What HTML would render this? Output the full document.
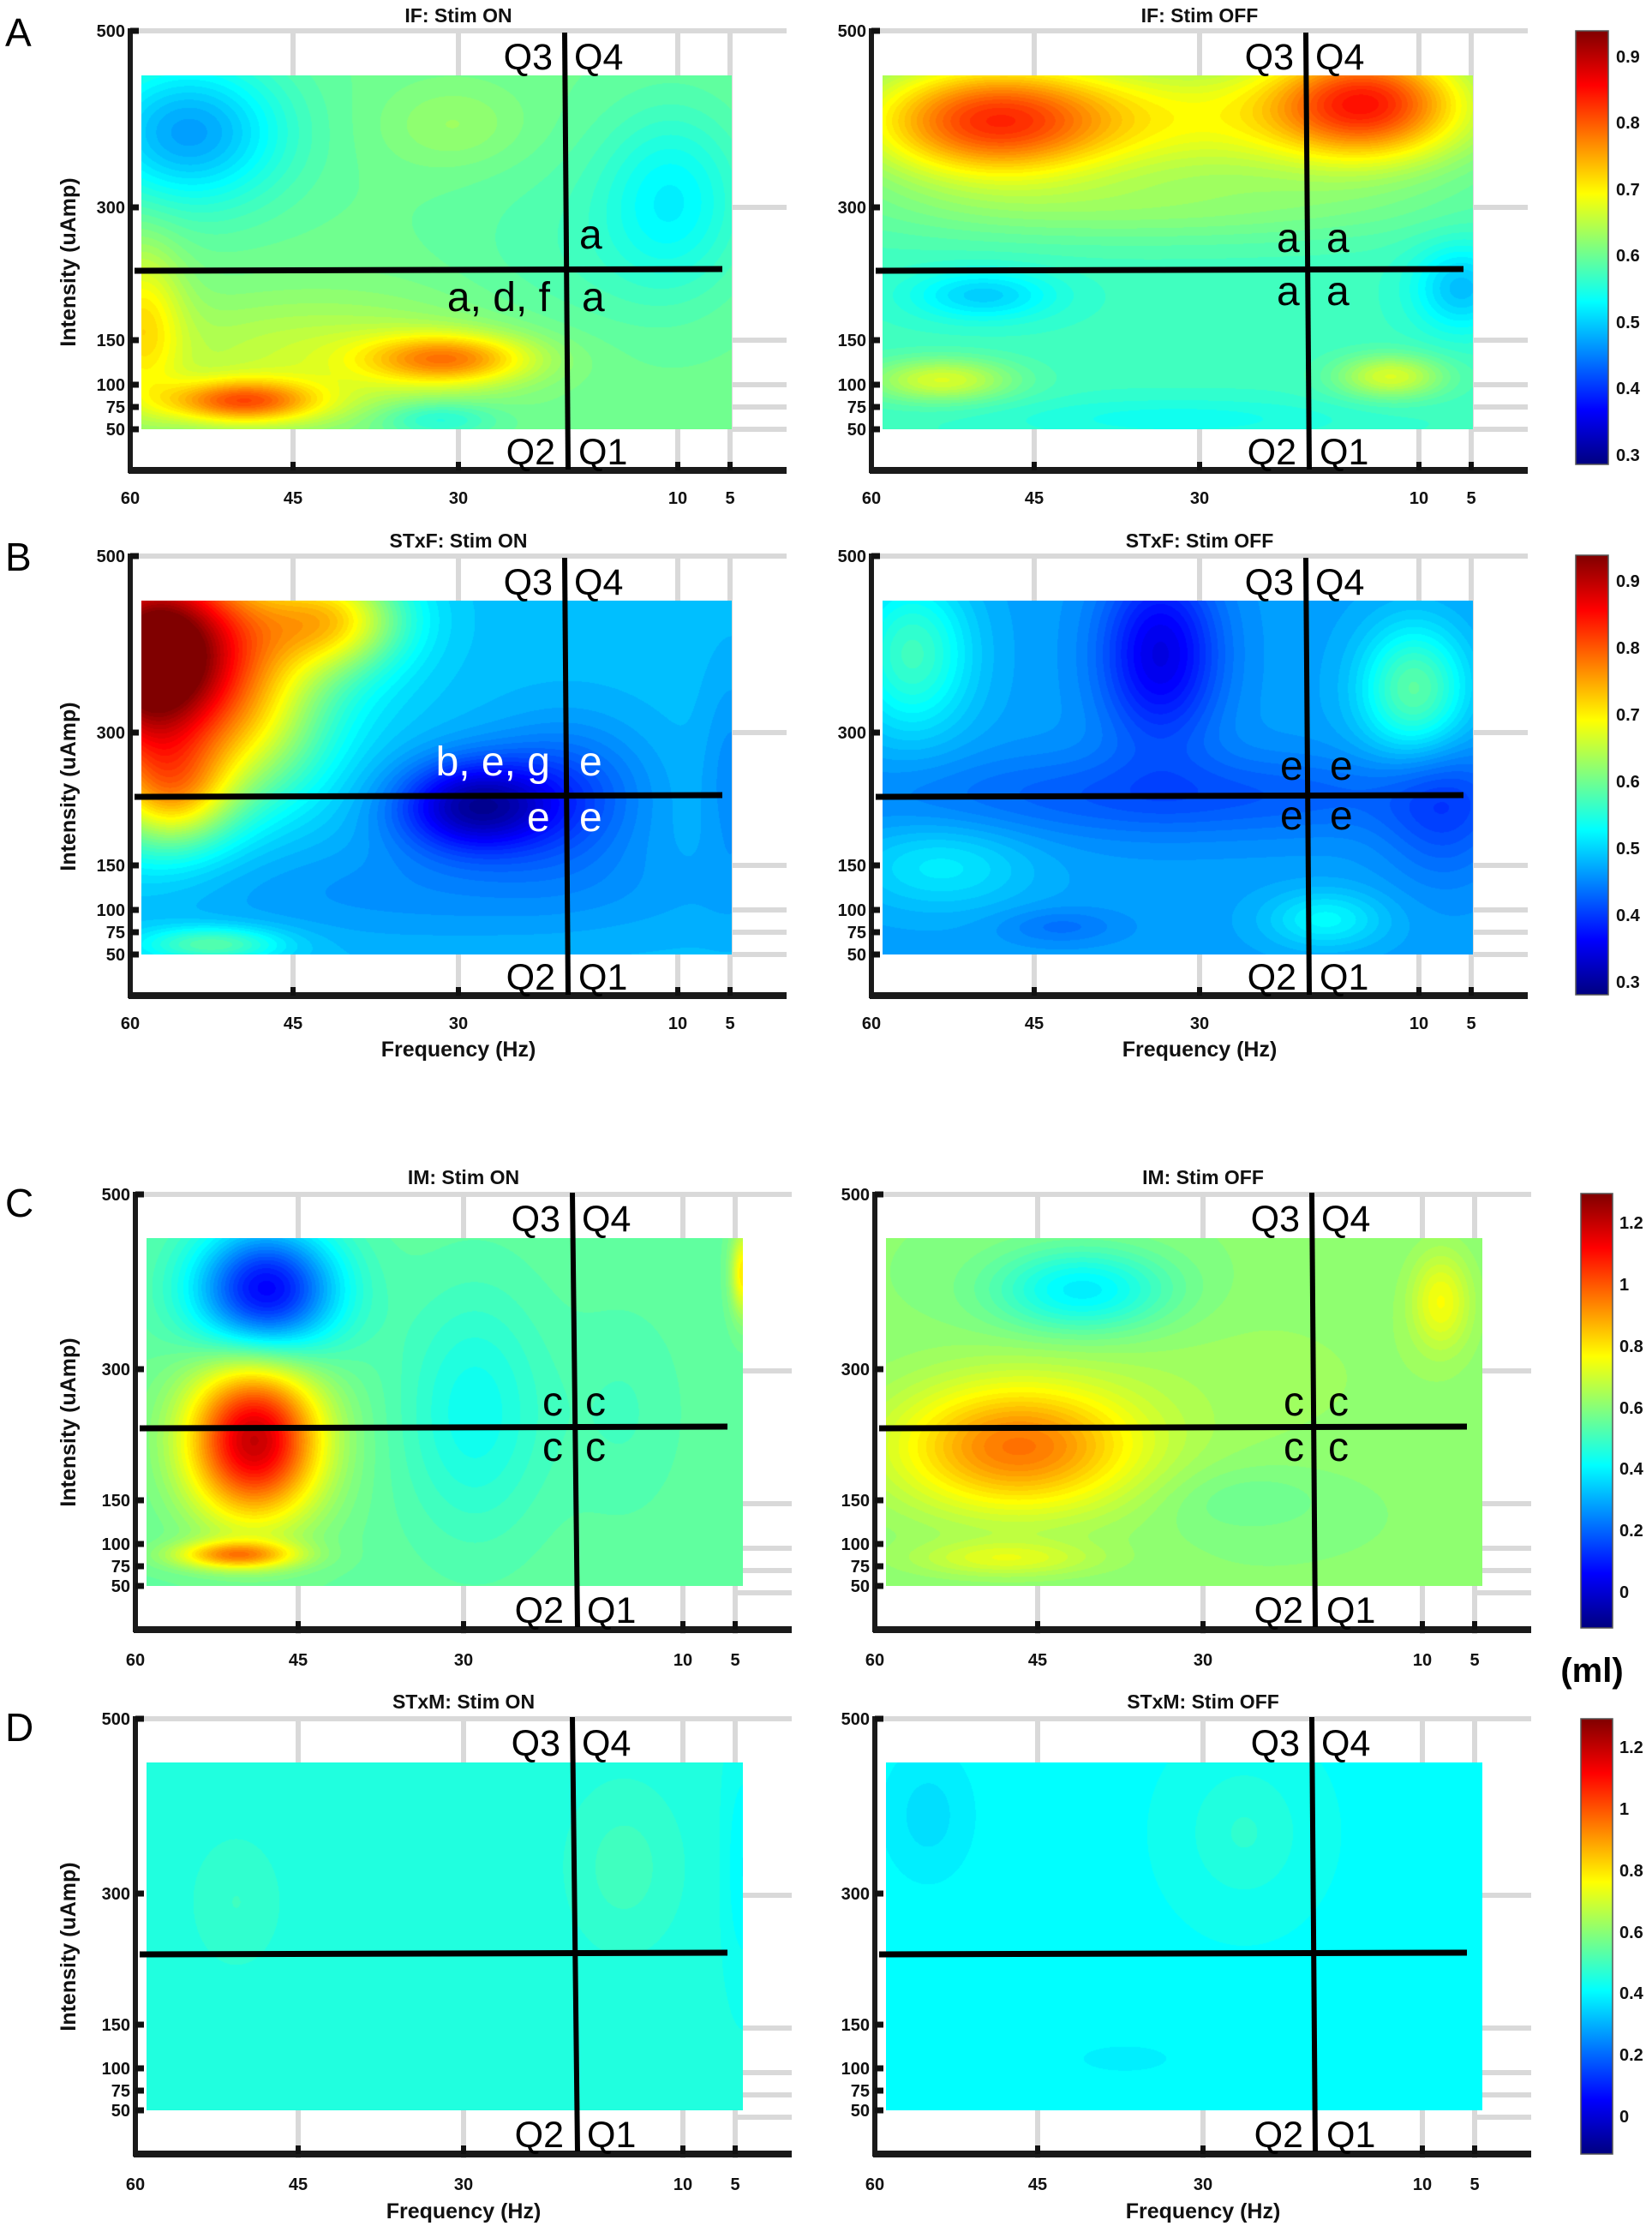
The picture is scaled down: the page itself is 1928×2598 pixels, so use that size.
<!DOCTYPE html>
<html><head><meta charset="utf-8">
<style>
html,body{margin:0;padding:0;background:#fff;}
#wrap{position:relative;width:1928px;height:2598px;overflow:hidden;background:#fff;}
svg{position:absolute;left:0;top:0;}
canvas{position:absolute;}
text{font-family:"Liberation Sans",Arial,sans-serif;}
.tk{font-size:20px;font-weight:bold;fill:#111;}
.tt{font-size:23px;font-weight:bold;fill:#111;}
.q{font-size:43px;fill:#000;}
.an{font-size:48px;fill:#000;}
.lb{font-size:25px;font-weight:bold;fill:#111;}
.pl{font-size:46px;fill:#000;}
</style></head><body>
<div id="wrap">
<svg width="1928" height="2598" style="z-index:0">
<g id="gridset" stroke="#d9d9d9" stroke-width="6" fill="none">
<g transform="translate(152,36)"><path d="M0 0H766M702 206H766M702 361H766M702 413H766M702 439H766M702 465H766M190 0V513M383 0V513M639 0V513M700 0V513"/></g>
<g transform="translate(1017,36)"><path d="M0 0H766M702 206H766M702 361H766M702 413H766M702 439H766M702 465H766M190 0V513M383 0V513M639 0V513M700 0V513"/></g>
<g transform="translate(152,649)"><path d="M0 0H766M702 206H766M702 361H766M702 413H766M702 439H766M702 465H766M190 0V513M383 0V513M639 0V513M700 0V513"/></g>
<g transform="translate(1017,649)"><path d="M0 0H766M702 206H766M702 361H766M702 413H766M702 439H766M702 465H766M190 0V513M383 0V513M639 0V513M700 0V513"/></g>
<g transform="translate(158,1394)"><path d="M0 0H766M702 206H766M702 361H766M702 413H766M702 439H766M702 465H766M190 0V513M383 0V513M639 0V513M700 0V513"/></g>
<g transform="translate(1021,1394)"><path d="M0 0H766M702 206H766M702 361H766M702 413H766M702 439H766M702 465H766M190 0V513M383 0V513M639 0V513M700 0V513"/></g>
<g transform="translate(158,2006)"><path d="M0 0H766M702 206H766M702 361H766M702 413H766M702 439H766M702 465H766M190 0V513M383 0V513M639 0V513M700 0V513"/></g>
<g transform="translate(1021,2006)"><path d="M0 0H766M702 206H766M702 361H766M702 413H766M702 439H766M702 465H766M190 0V513M383 0V513M639 0V513M700 0V513"/></g>
</g>
</svg>

<canvas id="c0" width="689" height="413" style="left:165px;top:88px;z-index:1"></canvas>
<canvas id="c1" width="689" height="413" style="left:1030px;top:88px;z-index:1"></canvas>
<canvas id="c2" width="689" height="413" style="left:165px;top:701px;z-index:1"></canvas>
<canvas id="c3" width="689" height="413" style="left:1030px;top:701px;z-index:1"></canvas>
<canvas id="c4" width="696" height="406" style="left:171px;top:1445px;z-index:1"></canvas>
<canvas id="c5" width="696" height="406" style="left:1034px;top:1445px;z-index:1"></canvas>
<canvas id="c6" width="696" height="406" style="left:171px;top:2057px;z-index:1"></canvas>
<canvas id="c7" width="696" height="406" style="left:1034px;top:2057px;z-index:1"></canvas>

<svg width="1928" height="2598" style="z-index:2">
<defs>
<linearGradient id="jet" x1="0" y1="1" x2="0" y2="0">
<stop offset="0" stop-color="#000080"/><stop offset="0.125" stop-color="#0000ff"/><stop offset="0.375" stop-color="#00ffff"/><stop offset="0.625" stop-color="#ffff00"/><stop offset="0.875" stop-color="#ff0000"/><stop offset="1" stop-color="#800000"/>
</linearGradient>
</defs>

<g transform="translate(152,36)">
<path d="M0 -3V516" stroke="#1a1a1a" stroke-width="6"/><path d="M-2 513H766" stroke="#1a1a1a" stroke-width="8"/>
<path d="M0 0H10M0 206H10M0 361H10M0 413H10M0 439H10M0 465H10" stroke="#111" stroke-width="7"/>
<path d="M190 513V503M383 513V503M639 513V503M700 513V503" stroke="#111" stroke-width="6"/>
<g class="tk" text-anchor="end"><text x="-6" y="7">500</text><text x="-6" y="213">300</text><text x="-6" y="368">150</text><text x="-6" y="420">100</text><text x="-6" y="446">75</text><text x="-6" y="472">50</text></g>
<g class="tk" text-anchor="middle"><text x="0" y="552">60</text><text x="190" y="552">45</text><text x="383" y="552">30</text><text x="639" y="552">10</text><text x="700" y="552">5</text></g>
<text class="tt" x="383" y="-10" text-anchor="middle">IF: Stim ON</text>
<path d="M507 2L511 512" stroke="#000" stroke-width="6"/><path d="M5 280L691 278" stroke="#000" stroke-width="7"/>
<g class="q"><text x="493" y="45" text-anchor="end">Q3</text><text x="518" y="45">Q4</text><text x="496" y="506" text-anchor="end">Q2</text><text x="523" y="506">Q1</text></g>
</g>
<text class="lb" transform="translate(88,306) rotate(-90)" text-anchor="middle">Intensity (uAmp)</text>
<text class="pl" x="6" y="54">A</text>

<g transform="translate(1017,36)">
<path d="M0 -3V516" stroke="#1a1a1a" stroke-width="6"/><path d="M-2 513H766" stroke="#1a1a1a" stroke-width="8"/>
<path d="M0 0H10M0 206H10M0 361H10M0 413H10M0 439H10M0 465H10" stroke="#111" stroke-width="7"/>
<path d="M190 513V503M383 513V503M639 513V503M700 513V503" stroke="#111" stroke-width="6"/>
<g class="tk" text-anchor="end"><text x="-6" y="7">500</text><text x="-6" y="213">300</text><text x="-6" y="368">150</text><text x="-6" y="420">100</text><text x="-6" y="446">75</text><text x="-6" y="472">50</text></g>
<g class="tk" text-anchor="middle"><text x="0" y="552">60</text><text x="190" y="552">45</text><text x="383" y="552">30</text><text x="639" y="552">10</text><text x="700" y="552">5</text></g>
<text class="tt" x="383" y="-10" text-anchor="middle">IF: Stim OFF</text>
<path d="M507 2L511 512" stroke="#000" stroke-width="6"/><path d="M5 280L691 278" stroke="#000" stroke-width="7"/>
<g class="q"><text x="493" y="45" text-anchor="end">Q3</text><text x="518" y="45">Q4</text><text x="496" y="506" text-anchor="end">Q2</text><text x="523" y="506">Q1</text></g>
</g>

<g transform="translate(152,649)">
<path d="M0 -3V516" stroke="#1a1a1a" stroke-width="6"/><path d="M-2 513H766" stroke="#1a1a1a" stroke-width="8"/>
<path d="M0 0H10M0 206H10M0 361H10M0 413H10M0 439H10M0 465H10" stroke="#111" stroke-width="7"/>
<path d="M190 513V503M383 513V503M639 513V503M700 513V503" stroke="#111" stroke-width="6"/>
<g class="tk" text-anchor="end"><text x="-6" y="7">500</text><text x="-6" y="213">300</text><text x="-6" y="368">150</text><text x="-6" y="420">100</text><text x="-6" y="446">75</text><text x="-6" y="472">50</text></g>
<g class="tk" text-anchor="middle"><text x="0" y="552">60</text><text x="190" y="552">45</text><text x="383" y="552">30</text><text x="639" y="552">10</text><text x="700" y="552">5</text></g>
<text class="tt" x="383" y="-10" text-anchor="middle">STxF: Stim ON</text>
<text class="lb" x="383" y="584" text-anchor="middle">Frequency (Hz)</text>
<path d="M507 2L511 512" stroke="#000" stroke-width="6"/><path d="M5 281L691 279" stroke="#000" stroke-width="7"/>
<g class="q"><text x="493" y="45" text-anchor="end">Q3</text><text x="518" y="45">Q4</text><text x="496" y="506" text-anchor="end">Q2</text><text x="523" y="506">Q1</text></g>
</g>
<text class="lb" transform="translate(88,918) rotate(-90)" text-anchor="middle">Intensity (uAmp)</text>
<text class="pl" x="6" y="666">B</text>

<g transform="translate(1017,649)">
<path d="M0 -3V516" stroke="#1a1a1a" stroke-width="6"/><path d="M-2 513H766" stroke="#1a1a1a" stroke-width="8"/>
<path d="M0 0H10M0 206H10M0 361H10M0 413H10M0 439H10M0 465H10" stroke="#111" stroke-width="7"/>
<path d="M190 513V503M383 513V503M639 513V503M700 513V503" stroke="#111" stroke-width="6"/>
<g class="tk" text-anchor="end"><text x="-6" y="7">500</text><text x="-6" y="213">300</text><text x="-6" y="368">150</text><text x="-6" y="420">100</text><text x="-6" y="446">75</text><text x="-6" y="472">50</text></g>
<g class="tk" text-anchor="middle"><text x="0" y="552">60</text><text x="190" y="552">45</text><text x="383" y="552">30</text><text x="639" y="552">10</text><text x="700" y="552">5</text></g>
<text class="tt" x="383" y="-10" text-anchor="middle">STxF: Stim OFF</text>
<text class="lb" x="383" y="584" text-anchor="middle">Frequency (Hz)</text>
<path d="M507 2L511 512" stroke="#000" stroke-width="6"/><path d="M5 281L691 279" stroke="#000" stroke-width="7"/>
<g class="q"><text x="493" y="45" text-anchor="end">Q3</text><text x="518" y="45">Q4</text><text x="496" y="506" text-anchor="end">Q2</text><text x="523" y="506">Q1</text></g>
</g>

<g transform="translate(158,1394)">
<path d="M0 -3V511" stroke="#1a1a1a" stroke-width="6"/><path d="M-2 508H766" stroke="#1a1a1a" stroke-width="8"/>
<path d="M0 0H10M0 204H10M0 357H10M0 408H10M0 434H10M0 457H10" stroke="#111" stroke-width="7"/>
<path d="M190 508V498M383 508V498M639 508V498M700 508V498" stroke="#111" stroke-width="6"/>
<g class="tk" text-anchor="end"><text x="-6" y="7">500</text><text x="-6" y="211">300</text><text x="-6" y="364">150</text><text x="-6" y="415">100</text><text x="-6" y="441">75</text><text x="-6" y="464">50</text></g>
<g class="tk" text-anchor="middle"><text x="0" y="550">60</text><text x="190" y="550">45</text><text x="383" y="550">30</text><text x="639" y="550">10</text><text x="700" y="550">5</text></g>
<text class="tt" x="383" y="-12" text-anchor="middle">IM: Stim ON</text>
<path d="M510 -2L516 505" stroke="#000" stroke-width="6"/><path d="M5 273L691 271" stroke="#000" stroke-width="7"/>
<g class="q"><text x="496" y="43" text-anchor="end">Q3</text><text x="521" y="43">Q4</text><text x="500" y="500" text-anchor="end">Q2</text><text x="527" y="500">Q1</text></g>
</g>
<text class="lb" transform="translate(88,1660) rotate(-90)" text-anchor="middle">Intensity (uAmp)</text>
<text class="pl" x="6" y="1420">C</text>

<g transform="translate(1021,1394)">
<path d="M0 -3V511" stroke="#1a1a1a" stroke-width="6"/><path d="M-2 508H766" stroke="#1a1a1a" stroke-width="8"/>
<path d="M0 0H10M0 204H10M0 357H10M0 408H10M0 434H10M0 457H10" stroke="#111" stroke-width="7"/>
<path d="M190 508V498M383 508V498M639 508V498M700 508V498" stroke="#111" stroke-width="6"/>
<g class="tk" text-anchor="end"><text x="-6" y="7">500</text><text x="-6" y="211">300</text><text x="-6" y="364">150</text><text x="-6" y="415">100</text><text x="-6" y="441">75</text><text x="-6" y="464">50</text></g>
<g class="tk" text-anchor="middle"><text x="0" y="550">60</text><text x="190" y="550">45</text><text x="383" y="550">30</text><text x="639" y="550">10</text><text x="700" y="550">5</text></g>
<text class="tt" x="383" y="-12" text-anchor="middle">IM: Stim OFF</text>
<path d="M510 -2L514 505" stroke="#000" stroke-width="6"/><path d="M5 273L691 271" stroke="#000" stroke-width="7"/>
<g class="q"><text x="496" y="43" text-anchor="end">Q3</text><text x="521" y="43">Q4</text><text x="500" y="500" text-anchor="end">Q2</text><text x="527" y="500">Q1</text></g>
</g>

<g transform="translate(158,2006)">
<path d="M0 -3V511" stroke="#1a1a1a" stroke-width="6"/><path d="M-2 508H766" stroke="#1a1a1a" stroke-width="8"/>
<path d="M0 0H10M0 204H10M0 357H10M0 408H10M0 434H10M0 457H10" stroke="#111" stroke-width="7"/>
<path d="M190 508V498M383 508V498M639 508V498M700 508V498" stroke="#111" stroke-width="6"/>
<g class="tk" text-anchor="end"><text x="-6" y="7">500</text><text x="-6" y="211">300</text><text x="-6" y="364">150</text><text x="-6" y="415">100</text><text x="-6" y="441">75</text><text x="-6" y="464">50</text></g>
<g class="tk" text-anchor="middle"><text x="0" y="550">60</text><text x="190" y="550">45</text><text x="383" y="550">30</text><text x="639" y="550">10</text><text x="700" y="550">5</text></g>
<text class="tt" x="383" y="-12" text-anchor="middle">STxM: Stim ON</text>
<text class="lb" x="383" y="583" text-anchor="middle">Frequency (Hz)</text>
<path d="M510 -2L516 505" stroke="#000" stroke-width="6"/><path d="M5 275L691 273" stroke="#000" stroke-width="7"/>
<g class="q"><text x="496" y="43" text-anchor="end">Q3</text><text x="521" y="43">Q4</text><text x="500" y="500" text-anchor="end">Q2</text><text x="527" y="500">Q1</text></g>
</g>
<text class="lb" transform="translate(88,2272) rotate(-90)" text-anchor="middle">Intensity (uAmp)</text>
<text class="pl" x="6" y="2032">D</text>

<g transform="translate(1021,2006)">
<path d="M0 -3V511" stroke="#1a1a1a" stroke-width="6"/><path d="M-2 508H766" stroke="#1a1a1a" stroke-width="8"/>
<path d="M0 0H10M0 204H10M0 357H10M0 408H10M0 434H10M0 457H10" stroke="#111" stroke-width="7"/>
<path d="M190 508V498M383 508V498M639 508V498M700 508V498" stroke="#111" stroke-width="6"/>
<g class="tk" text-anchor="end"><text x="-6" y="7">500</text><text x="-6" y="211">300</text><text x="-6" y="364">150</text><text x="-6" y="415">100</text><text x="-6" y="441">75</text><text x="-6" y="464">50</text></g>
<g class="tk" text-anchor="middle"><text x="0" y="550">60</text><text x="190" y="550">45</text><text x="383" y="550">30</text><text x="639" y="550">10</text><text x="700" y="550">5</text></g>
<text class="tt" x="383" y="-12" text-anchor="middle">STxM: Stim OFF</text>
<text class="lb" x="383" y="583" text-anchor="middle">Frequency (Hz)</text>
<path d="M510 -2L514 505" stroke="#000" stroke-width="6"/><path d="M5 275L691 273" stroke="#000" stroke-width="7"/>
<g class="q"><text x="496" y="43" text-anchor="end">Q3</text><text x="521" y="43">Q4</text><text x="500" y="500" text-anchor="end">Q2</text><text x="527" y="500">Q1</text></g>
</g>

<g class="an">
<text x="676" y="290">a</text>
<text x="642" y="363" text-anchor="end">a, d, f</text>
<text x="679" y="363">a</text>
<text x="1490" y="294">a</text><text x="1548" y="294">a</text>
<text x="1490" y="356">a</text><text x="1548" y="356">a</text>
<text x="642" y="905" text-anchor="end" fill="#fff">b, e, g</text>
<text x="676" y="905" fill="#fff">e</text>
<text x="615" y="970" fill="#fff">e</text><text x="676" y="970" fill="#fff">e</text>
<text x="1494" y="910">e</text><text x="1552" y="910">e</text>
<text x="1494" y="968">e</text><text x="1552" y="968">e</text>
<text x="633" y="1652">c</text><text x="683" y="1652">c</text>
<text x="633" y="1705">c</text><text x="683" y="1705">c</text>
<text x="1498" y="1652">c</text><text x="1550" y="1652">c</text>
<text x="1498" y="1705">c</text><text x="1550" y="1705">c</text>
</g>

<rect x="1839" y="36" width="38" height="506" fill="url(#jet)" stroke="#555" stroke-width="1.5"/>
<g class="tk"><text x="1886" y="73">0.9</text><text x="1886" y="150">0.8</text><text x="1886" y="228">0.7</text><text x="1886" y="305">0.6</text><text x="1886" y="383">0.5</text><text x="1886" y="460">0.4</text><text x="1886" y="538">0.3</text></g>
<rect x="1839" y="648" width="38" height="513" fill="url(#jet)" stroke="#555" stroke-width="1.5"/>
<g class="tk"><text x="1886" y="685">0.9</text><text x="1886" y="763">0.8</text><text x="1886" y="841">0.7</text><text x="1886" y="919">0.6</text><text x="1886" y="997">0.5</text><text x="1886" y="1075">0.4</text><text x="1886" y="1153">0.3</text></g>
<rect x="1845" y="1393" width="37" height="507" fill="url(#jet)" stroke="#555" stroke-width="1.5"/>
<g class="tk"><text x="1890" y="1434">1.2</text><text x="1890" y="1506">1</text><text x="1890" y="1578">0.8</text><text x="1890" y="1650">0.6</text><text x="1890" y="1721">0.4</text><text x="1890" y="1793">0.2</text><text x="1890" y="1865">0</text></g>
<text x="1858" y="1963" text-anchor="middle" style="font-size:40px;font-weight:bold">(ml)</text>
<rect x="1845" y="2006" width="37" height="508" fill="url(#jet)" stroke="#555" stroke-width="1.5"/>
<g class="tk"><text x="1890" y="2046">1.2</text><text x="1890" y="2118">1</text><text x="1890" y="2190">0.8</text><text x="1890" y="2262">0.6</text><text x="1890" y="2333">0.4</text><text x="1890" y="2405">0.2</text><text x="1890" y="2477">0</text></g>
</svg>
</div>
<script>
function jet(t){t=Math.max(0,Math.min(1,t));
 function c(x){return Math.max(0,Math.min(1,1.5-Math.abs(x)));}
 return [c(4*t-3)*255,c(4*t-2)*255,c(4*t-1)*255];}
var A=[0.286,0.939],C=[-0.117,1.295];
var maps=[
 [A,0.6,[[0.08,0.16,0.16,0.2,-0.13],[0.9,0.35,0.12,0.25,-0.07],[0.53,0.14,0.12,0.12,0.03],[0.0,0.7,0.07,0.22,0.1],[0.17,0.92,0.13,0.06,0.18],[0.52,0.8,0.14,0.07,0.15],[0.3,0.8,0.32,0.18,0.06],[0.5,0.97,0.1,0.05,-0.06],[0.72,0.5,0.2,0.3,-0.02]]],
 [A,0.57,[[0.18,0.13,0.2,0.16,0.19],[0.82,0.07,0.16,0.16,0.21],[0.5,0.12,0.5,0.18,0.11],[0.45,0.38,0.5,0.1,0.04],[0.17,0.62,0.12,0.07,-0.07],[0.98,0.6,0.08,0.12,-0.08],[0.1,0.86,0.12,0.06,0.1],[0.86,0.85,0.09,0.06,0.1],[0.5,0.97,0.3,0.06,-0.03]]],
 [A,0.49,[[0.0,0.2,0.14,0.35,0.35],[0.12,0.12,0.2,0.28,0.25],[0.33,0.05,0.12,0.14,0.16],[0.06,0.55,0.1,0.15,0.14],[0.2,0.4,0.12,0.2,0.08],[0.56,0.58,0.13,0.13,-0.17],[0.72,0.55,0.14,0.2,-0.07],[0.12,0.97,0.12,0.05,0.1],[0.5,0.82,0.5,0.15,-0.03],[1,0.5,0.05,0.3,-0.03]]],
 [A,0.47,[[0.47,0.15,0.1,0.25,-0.12],[0.05,0.15,0.1,0.22,0.1],[0.9,0.25,0.09,0.18,0.12],[0.5,0.55,0.5,0.12,-0.05],[0.1,0.75,0.15,0.12,0.05],[0.75,0.9,0.1,0.08,0.06],[0.95,0.6,0.1,0.2,-0.05],[0.3,0.92,0.1,0.05,-0.03]]],
 [C,0.55,[[0.2,0.15,0.12,0.18,-0.5],[0.18,0.58,0.11,0.22,0.65],[0.15,0.91,0.1,0.04,0.35],[0.55,0.5,0.12,0.35,-0.12],[0.8,0.5,0.1,0.3,-0.04],[1,0.1,0.02,0.12,0.25]]],
 [C,0.6,[[0.33,0.15,0.15,0.12,-0.22],[0.93,0.18,0.05,0.14,0.15],[0.22,0.6,0.2,0.18,0.35],[0.2,0.92,0.15,0.05,0.12],[0.55,0.4,0.4,0.3,0.03],[0.6,0.75,0.15,0.1,-0.05]]],
 [C,0.45,[[0.15,0.4,0.08,0.2,0.04],[0.8,0.3,0.1,0.25,0.05],[1,0.3,0.03,0.3,-0.05]]],
 [C,0.42,[[0.07,0.15,0.08,0.2,-0.05],[0.6,0.2,0.1,0.2,0.05],[0.4,0.85,0.1,0.05,-0.03]]]
];
maps.forEach(function(m,i){
 var cv=document.getElementById('c'+i),ctx=cv.getContext('2d'),w=cv.width,h=cv.height;
 var img=ctx.createImageData(w,h),d=img.data,r=m[0],b=m[2];
 for(var y=0;y<h;y++){var v=y/h;for(var x=0;x<w;x++){var u=x/w,val=m[1];
  for(var k=0;k<b.length;k++){var q=b[k],du=(u-q[0])/q[2],dv=(v-q[1])/q[3];val+=q[4]*Math.exp(-(du*du+dv*dv));}
  var t=(val-r[0])/(r[1]-r[0]);t=Math.round(t*64)/64;var c=jet(t),p=(y*w+x)*4;
  d[p]=c[0];d[p+1]=c[1];d[p+2]=c[2];d[p+3]=255;}}
 ctx.putImageData(img,0,0);
});
</script>
</body></html>
